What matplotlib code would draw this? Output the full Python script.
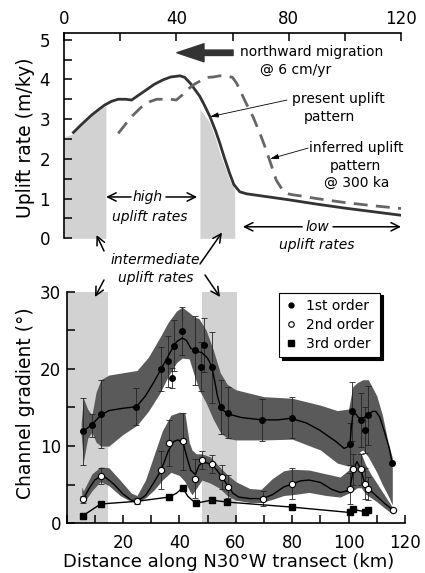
import matplotlib.pyplot as plt
from matplotlib.lines import Line2D
from matplotlib.patches import FancyArrowPatch
from matplotlib.ticker import MultipleLocator

# uplift rate along the transect (m/ky)
present_x = [3, 6, 9.8, 12.5, 14.6, 17, 19.3, 22, 24.1, 26.5, 29.4, 32, 35.3, 38, 41.3,
             43, 45, 48.4, 50, 52, 54, 55.5, 57, 59, 60.5, 62.6, 65, 70, 80, 90, 100, 110, 120]
present_y = [2.64, 2.85, 3.1, 3.25, 3.36, 3.45, 3.5, 3.5, 3.48, 3.6, 3.74, 3.87, 3.99, 4.06, 4.09,
             4.05, 3.9, 3.57, 3.35, 3.06, 2.7, 2.39, 2.05, 1.63, 1.35, 1.17, 1.12, 1.07, 0.97,
             0.86, 0.76, 0.67, 0.58]
inferred_x = [19.3, 22, 24.6, 27.5, 30.6, 33, 35, 38, 40, 42, 44, 46, 49, 51, 53.1, 55.5, 57.9,
              60, 61.5, 62.6, 64.5, 67.3, 70, 72, 74, 75.6, 77.5, 79.2, 81, 84, 90, 100, 110, 120]
inferred_y = [2.64, 2.88, 3.1, 3.3, 3.44, 3.5, 3.5, 3.5, 3.48, 3.6, 3.74, 3.86, 3.98, 4.05, 4.06,
              4.09, 4.09, 4.05, 3.9, 3.74, 3.45, 3.06, 2.6, 2.22, 1.8, 1.46, 1.25, 1.13, 1.1,
              1.07, 1.0, 0.9, 0.82, 0.75]

# intermediate uplift zones (km) and the shaded area under the uplift curve
zones = [(0, 14.7), (48.2, 60.6)]
shade_left_x = [0, 3, 6, 9.8, 12.5, 14.9]
shade_left_top = [2.55, 2.62, 2.83, 3.08, 3.23, 3.33]
shade_right_x = [48.4, 50, 52, 54, 55.5, 57, 59, 60.8]
shade_right_top = [3.25, 3.1, 2.9, 2.5, 2.14, 1.85, 1.47, 1.22]

# channel gradients (degrees), 1st order streams
o1_x = [5.9, 9, 12.2, 24.8, 33.4, 36.1, 37.5, 38.1, 41.1, 45.4, 47.6, 48.9, 51.5, 54.6, 57.4,
        69.3, 79.8, 100.4, 101.3, 104.3, 105.7, 106.9, 115.5]
o1_y = [11.9, 12.7, 14.2, 15.1, 20.0, 21.0, 18.8, 23.0, 24.9, 22.4, 20.3, 23.1, 20.2, 15.1, 14.3,
        13.4, 13.7, 10.3, 14.5, 13.4, 12.1, 14.0, 7.8]
o1_err = [4.3, 1.5, 4.4, 2.4, 2.8, 3.3, 1.3, 3.3, 3.1, 4.5, 3.2, 3.5, 4.6, 3.5, 3.3,
          2.7, 2.6, 2.7, 3.8, 3.5, 3.0, 3.8, 0]
o1_fit_x = [5.9, 9, 12.2, 15, 20, 24.8, 28, 31, 34, 37, 39, 41, 42.5, 44, 46, 48, 50, 51.5, 52.5,
            53.5, 54.6, 56, 58, 62, 69.3, 75, 79.6, 85, 89.6, 95.5, 98.4, 99.6, 100.5, 101,
            101.5, 102.5, 103.5, 104.5, 105.5, 107, 108.5, 109.6, 111, 112.5, 114.3, 115.5]
o1_fit_y = [11.9, 12.8, 14.0, 14.6, 14.9, 15.1, 16.5, 18.3, 20.3, 22.3, 23.5, 24.0, 23.7, 22.7,
            22.3, 22.1, 21.4, 20.3, 18.5, 16.5, 15.1, 14.5, 14.1, 13.7, 13.4, 13.4, 13.6, 13.0,
            12.1, 10.6, 9.7, 9.9, 10.3, 12.5, 14.0, 14.2, 13.7, 13.5, 13.7, 14.1, 14.5, 14.5,
            13.8, 12.1, 9.9, 7.8]
o1_env_x = [5.2, 6, 7.5, 9, 10.5, 12.2, 15, 20, 25, 29, 33, 36, 39, 41, 43.5, 45, 47, 49.5, 52,
            54.5, 57, 60, 70, 80, 90, 96, 100, 101.5, 103, 105, 107, 110, 112, 114, 115.5]
o1_env_lo = [11.5, 8.0, 11.0, 11.8, 10.5, 10.0, 10.0, 11.5, 12.7, 14.5, 16.8, 19.0, 20.8, 21.4,
             21.3, 19.5, 17.3, 15.6, 13.5, 11.8, 11.0, 10.8, 10.8, 10.9, 9.5, 7.8, 7.4, 8.0,
             9.0, 9.5, 8.6, 6.6, 5.0, 3.6, 2.4]
o1_env_hi = [13.0, 16.2, 14.8, 14.0, 17.0, 18.6, 19.2, 19.5, 19.8, 21.5, 24.0, 26.0, 27.5, 28.0,
             27.3, 26.8, 26.5, 25.0, 22.5, 19.5, 18.0, 17.3, 16.4, 16.2, 15.3, 14.6, 14.8, 17.7,
             18.2, 18.6, 18.6, 16.5, 14.0, 10.5, 8.5]

# 2nd order streams
o2_x = [5.9, 12.1, 25, 33.6, 36.4, 41.3, 45.7, 48, 51.5, 55, 57.2, 69.6, 80, 100.5, 101.7,
        104.3, 105.8, 107, 115.7]
o2_y = [3.1, 6.1, 2.85, 6.9, 10.4, 10.6, 5.8, 8.2, 7.7, 6.0, 4.75, 3.2, 5.1, 4.5, 7.0, 7.0,
        5.1, 4.5, 1.75]
o2_err = [0.5, 1.0, 0.4, 2.5, 3.0, 3.7, 2.5, 1.2, 1.2, 1.5, 1.5, 1.0, 2.0, 2.0, 2.0, 2.0,
          2.0, 1.5, 0]
o2_fit_x = [5.9, 8, 10, 12.1, 14, 17, 20, 23, 25, 28, 31, 33.6, 36, 38, 39.5, 41.3, 42.5, 44,
            45.7, 47, 48.5, 50, 51.5, 53.5, 55, 57.2, 59, 61, 65, 69.6, 73, 77, 80, 83, 86, 90,
            94, 97, 99.5, 100.5, 101.7, 103, 104.3, 105.8, 107, 110, 113, 115.7]
o2_fit_y = [3.1, 4.5, 5.6, 6.1, 5.9, 5.0, 3.8, 3.0, 2.85, 3.6, 5.3, 6.9, 9.3, 10.6, 10.8, 10.5,
            8.8, 6.9, 6.3, 7.5, 7.9, 7.8, 7.6, 6.8, 6.0, 4.9, 3.9, 3.4, 3.2, 3.2, 3.7, 4.7, 5.1,
            5.5, 5.6, 5.3, 4.4, 4.0, 4.2, 4.6, 7.0, 8.0, 7.0, 5.1, 4.5, 3.5, 2.5, 1.75]
o2_env_x = [5.4, 6, 9, 12, 15, 19, 23, 25, 28, 31, 34, 37, 40, 42, 43.5, 44.5, 46, 48, 51, 54,
            57, 60, 65, 69, 73, 77, 80, 86, 92, 97, 100, 101.5, 103, 104.5, 106, 108, 110, 113,
            115.7]
o2_env_lo = [3.2, 2.6, 4.2, 5.4, 4.9, 3.6, 2.8, 2.7, 3.3, 4.3, 5.6, 6.6, 6.2, 5.4, 4.3, 3.7,
             4.5, 5.6, 5.2, 4.6, 3.6, 3.0, 2.7, 2.7, 3.1, 3.6, 3.7, 4.0, 3.6, 3.4, 3.9, 4.2, 4.6,
             4.6, 3.8, 3.3, 2.8, 1.9, 1.2]
o2_env_hi = [4.7, 4.2, 6.4, 7.3, 7.2, 5.6, 3.9, 3.6, 5.6, 8.8, 12.0, 14.0, 14.4, 14.2, 10.5,
             9.5, 9.0, 9.0, 8.6, 7.4, 6.3, 5.4, 4.5, 4.4, 5.8, 6.8, 7.0, 6.9, 6.4, 6.0, 6.9, 9.0,
             9.5, 9.0, 7.6, 6.3, 5.2, 3.5, 2.0]

# 3rd order streams
o3_x = [5.9, 12.1, 36.4, 41.2, 45.8, 51.5, 57, 79.8, 100.5, 101.6, 105.8, 107]
o3_y = [1.0, 2.5, 3.4, 4.6, 2.6, 3.0, 2.75, 2.1, 1.4, 1.8, 1.5, 1.7]
o3_fit_x = [5.9, 12.1, 25, 36.4, 39, 41.2, 43, 45.8, 51.5, 57, 79.8, 100.5, 101.6, 105.8, 107]
o3_fit_y = [1.0, 2.5, 2.85, 3.4, 3.9, 4.6, 3.5, 2.6, 3.0, 2.75, 2.1, 1.4, 1.8, 1.5, 1.7]

LIGHT = '#d2d2d2'
DARK = '#5a5a5a'

fig = plt.figure(figsize=(4.25, 5.73), dpi=100)
W, H = 425, 573


def fp(px, py):
    return (px / W, 1 - py / H)


ax1 = fig.add_axes([64 / W, 1 - 238.3 / H, 337 / W, 205 / H])
ax2 = fig.add_axes([66.5 / W, 1 - 523.3 / H, 338.5 / W, 231.6 / H])

# ---- top: uplift pattern ----
ax1.fill_between(shade_left_x, 0, shade_left_top, color=LIGHT, lw=0, zorder=0)
ax1.fill_between(shade_right_x, 0, shade_right_top, color=LIGHT, lw=0, zorder=0)
ax1.plot(present_x, present_y, color='#333333', lw=2.0, solid_capstyle='butt')
ax1.plot(inferred_x, inferred_y, color='#666666', lw=2.0, dashes=(5, 3))

ax1.set_xlim(0, 120)
ax1.set_ylim(0, 5.16)
ax1.xaxis.tick_top()
ax1.set_xticks([0, 40, 80, 120])
ax1.xaxis.set_minor_locator(MultipleLocator(20))
ax1.set_yticks([0, 1, 2, 3, 4, 5])
ax1.yaxis.set_minor_locator(MultipleLocator(0.5))
ax1.spines['bottom'].set_visible(False)
ax1.spines['right'].set_visible(False)
ax1.tick_params(which='both', direction='in', length=6, width=1.1, labelsize=12)
ax1.tick_params(axis='x', which='both', top=True, bottom=False, pad=4)
ax1.tick_params(axis='y', pad=10)
ax1.set_ylabel('Uplift rate (m/ky)', fontsize=13.5)
ax1.yaxis.set_label_coords(-0.086, 0.49)
for s in ax1.spines.values():
    s.set_linewidth(1.2)

ax1.annotate('', xy=(40.2, 4.67), xytext=(60.2, 4.67),
             arrowprops=dict(arrowstyle='simple,head_length=1.5,head_width=1.0,tail_width=0.3',
                             color='#333333', mutation_scale=13, shrinkA=0, shrinkB=0))
ax1.text(62.7, 4.69, 'northward migration', ha='left', va='center', fontsize=10)
ax1.text(82.3, 4.24, '@ 6 cm/yr', ha='center', va='center', fontsize=10)

thin = dict(arrowstyle='-|>,head_length=0.5,head_width=0.15', color='k', lw=0.6,
            shrinkA=0, shrinkB=0)
ax1.text(97.6, 3.51, 'present uplift', ha='center', va='center', fontsize=10)
ax1.text(94.4, 3.06, 'pattern', ha='center', va='center', fontsize=10)
ax1.annotate('', xy=(52.0, 3.06), xytext=(79.4, 3.48), arrowprops=thin)
ax1.text(104.2, 2.27, 'inferred uplift', ha='center', va='center', fontsize=10)
ax1.text(103.6, 1.82, 'pattern', ha='center', va='center', fontsize=10)
ax1.text(104.3, 1.39, '@ 300 ka', ha='center', va='center', fontsize=10)
ax1.annotate('', xy=(73.4, 2.0), xytext=(86.9, 2.27), arrowprops=thin)

arr = dict(arrowstyle='->,head_length=0.6,head_width=0.3', color='k', lw=1.1,
           shrinkA=0, shrinkB=0)
ax1.text(29.9, 1.04, 'high', ha='center', va='center', fontsize=10, style='italic')
ax1.annotate('', xy=(15.0, 1.04), xytext=(23.9, 1.04), arrowprops=arr)
ax1.annotate('', xy=(47.4, 1.04), xytext=(36.3, 1.04), arrowprops=arr)
ax1.text(30.4, 0.54, 'uplift rates', ha='center', va='center', fontsize=10, style='italic')
ax1.text(90.1, 0.29, 'low', ha='center', va='center', fontsize=10, style='italic')
ax1.annotate('', xy=(63.7, 0.29), xytext=(84.8, 0.29), arrowprops=arr)
ax1.annotate('', xy=(120, 0.29), xytext=(95.8, 0.29), arrowprops=arr, annotation_clip=False)
ax1.text(90.1, -0.17, 'uplift rates', ha='center', va='center', fontsize=10, style='italic')

# ---- bottom: channel gradients ----
for x0, x1 in zones:
    ax2.axvspan(x0, x1, color=LIGHT, lw=0, zorder=0)
ax2.fill_between(o1_env_x, o1_env_lo, o1_env_hi, color=DARK, lw=0, zorder=1)
ax2.fill_between(o2_env_x, o2_env_lo, o2_env_hi, color=DARK, lw=0, zorder=1)
ax2.errorbar(o1_x, o1_y, yerr=o1_err, fmt='none', ecolor='#222222', elinewidth=0.6,
             capsize=2.5, capthick=0.6, zorder=2)
ax2.errorbar(o2_x, o2_y, yerr=o2_err, fmt='none', ecolor='#222222', elinewidth=0.6,
             capsize=2.5, capthick=0.6, zorder=2)
ax2.plot(o1_fit_x, o1_fit_y, color='k', lw=1.0, zorder=3)
ax2.plot(o2_fit_x, o2_fit_y, color='k', lw=1.0, zorder=3)
ax2.plot(o3_fit_x, o3_fit_y, color='k', lw=1.0, zorder=3)
ax2.plot(o1_x, o1_y, 'o', color='k', ms=4, ls='none', zorder=4)
ax2.plot(o2_x, o2_y, 'o', mfc='white', mec='k', mew=0.8, ms=4.5, ls='none', zorder=4)
ax2.plot(o3_x, o3_y, 's', color='k', ms=5, ls='none', zorder=4)

ax2.set_xlim(0, 120)
ax2.set_ylim(0, 30)
ax2.set_xticks([20, 40, 60, 80, 100, 120])
ax2.xaxis.set_minor_locator(MultipleLocator(10))
ax2.set_yticks([0, 10, 20, 30])
ax2.yaxis.set_minor_locator(MultipleLocator(5))
ax2.spines['top'].set_visible(False)
ax2.spines['right'].set_visible(False)
ax2.tick_params(which='both', direction='in', length=6, width=1.1, labelsize=12)
ax2.tick_params(axis='x', pad=8)
ax2.tick_params(axis='y', pad=4)
for s in ax2.spines.values():
    s.set_linewidth(1.2)
ax2.set_ylabel('Channel gradient (°)', fontsize=13.5)
ax2.yaxis.set_label_coords(-0.093, 0.52)
ax2.set_xlabel('Distance along N30°W transect (km)', fontsize=13)
ax2.xaxis.set_label_coords(0.479, -0.128)

handles = [Line2D([], [], marker='o', ls='none', color='k', ms=3.5),
           Line2D([], [], marker='o', ls='none', mfc='white', mec='k', mew=0.8, ms=4),
           Line2D([], [], marker='s', ls='none', color='k', ms=5)]
leg = ax2.legend(handles, ['1st order', '2nd order', '3rd order'], loc='upper left',
                 bbox_to_anchor=(0.628, 0.996), borderaxespad=0, fontsize=10,
                 fancybox=False, edgecolor='k', framealpha=1,
                 shadow={'color': 'k', 'alpha': 1},
                 handlelength=0.8, handletextpad=0.7, labelspacing=0.35, borderpad=0.45)
leg.get_frame().set_linewidth(0.8)

# shared labels between the two panels
fig.text(*fp(155, 260), 'intermediate', ha='center', va='center', fontsize=10, style='italic')
fig.text(*fp(156, 278), 'uplift rates', ha='center', va='center', fontsize=10, style='italic')
for tail, head in [((104, 251), (96.5, 235)), ((200, 264), (222, 232.5)),
                   ((104, 280), (95, 297)), ((205, 275), (220, 297))]:
    fig.add_artist(FancyArrowPatch(
        fp(*tail), fp(*head), transform=fig.transFigure,
        arrowstyle='->,head_length=6,head_width=3', color='k', lw=1.1,
        shrinkA=0, shrinkB=0))

fig.savefig('out.png', dpi=100)
